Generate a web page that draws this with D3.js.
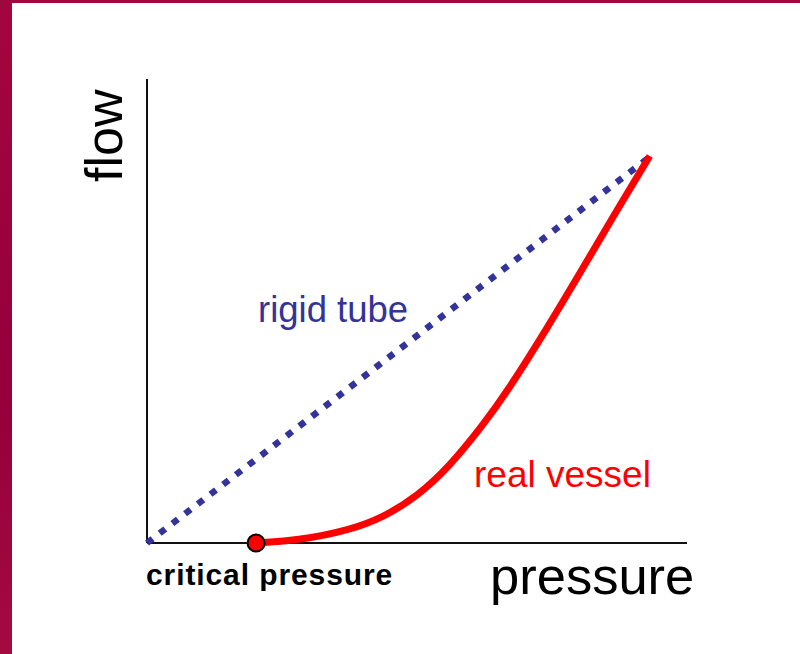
<!DOCTYPE html>
<html>
<head>
<meta charset="utf-8">
<script src="https://cdn.jsdelivr.net/npm/d3@7"></script>
<style>
  body { margin: 0; background: #fff; }
  svg { display: block; font-family: 'Liberation Sans', Arial, sans-serif; }
</style>
</head>
<body>
<div id="chart"></div>
<script>
const width = 800;
const height = 654;

// pressure / flow in arbitrary units (0..100 on both axes)
const rigidPressure = [0, 93.1];
const rigidFlow = [0, 83.2];

const vesselPressure = [20.2, 28.3, 37.6, 43.7, 50.0, 56.1, 62.2, 66.7, 74.1, 80.2, 86.3, 93.1];
const vesselFlow = [0, 0.6, 2.8, 5.5, 10.0, 16.6, 25.4, 32.6, 46.3, 58.2, 70.3, 83.4];

const criticalPressure = 20.2;

const svg = d3.select('#chart').append('svg')
  .attr('width', width)
  .attr('height', height);

// slide frame (left + top strip)
const grad = svg.append('defs').append('linearGradient')
  .attr('id', 'strip')
  .attr('x1', 0).attr('x2', 0).attr('y1', 0).attr('y2', 1);
grad.append('stop').attr('offset', '0%').attr('stop-color', '#a3063f');
grad.append('stop').attr('offset', '60%').attr('stop-color', '#95003a');
grad.append('stop').attr('offset', '100%').attr('stop-color', '#a30a40');

svg.append('rect').attr('x', 0).attr('y', 0).attr('width', 12).attr('height', height).attr('fill', 'url(#strip)');
svg.append('rect').attr('x', 0).attr('y', 0).attr('width', width).attr('height', 3).attr('fill', '#a3063f');

const x = d3.scaleLinear().domain([0, 100]).range([147, 687]);
const y = d3.scaleLinear().domain([0, 100]).range([543, 79]);

// axes: plain lines, no ticks
svg.append('line')
  .attr('x1', x(0)).attr('x2', x(0))
  .attr('y1', y(0)).attr('y2', y(100))
  .attr('stroke', '#111').attr('stroke-width', 2);
svg.append('line')
  .attr('x1', x(0)).attr('x2', x(100))
  .attr('y1', y(0)).attr('y2', y(0))
  .attr('stroke', '#111').attr('stroke-width', 2);

const line = d3.line()
  .x((d) => x(d[0]))
  .y((d) => y(d[1]));

svg.append('path')
  .datum(d3.zip(rigidPressure, rigidFlow))
  .attr('d', line)
  .attr('fill', 'none')
  .attr('stroke', '#333399')
  .attr('stroke-width', 6.5)
  .attr('stroke-dasharray', '7 9');

svg.append('path')
  .datum(d3.zip(vesselPressure, vesselFlow))
  .attr('d', line.curve(d3.curveBasis))
  .attr('fill', 'none')
  .attr('stroke', '#ff0000')
  .attr('stroke-width', 7);

svg.append('circle')
  .attr('cx', x(criticalPressure))
  .attr('cy', y(0))
  .attr('r', 8.5)
  .attr('fill', '#ff0000')
  .attr('stroke', '#000')
  .attr('stroke-width', 2);

// labels
svg.append('text')
  .attr('transform', 'translate(122, 182) rotate(-90)')
  .attr('font-size', 52)
  .attr('fill', '#000')
  .text('flow');

svg.append('text')
  .attr('x', 490).attr('y', 594)
  .attr('font-size', 52.5)
  .attr('fill', '#000')
  .text('pressure');

svg.append('text')
  .attr('x', 146).attr('y', 585)
  .attr('font-size', 30)
  .attr('letter-spacing', 0.9)
  .attr('font-weight', 'bold')
  .attr('fill', '#000')
  .text('critical pressure');

svg.append('text')
  .attr('x', 258).attr('y', 322)
  .attr('font-size', 36.5)
  .attr('fill', '#333399')
  .text('rigid tube');

svg.append('text')
  .attr('x', 474).attr('y', 487)
  .attr('font-size', 37)
  .attr('fill', '#ff0000')
  .text('real vessel');
</script>
</body>
</html>
